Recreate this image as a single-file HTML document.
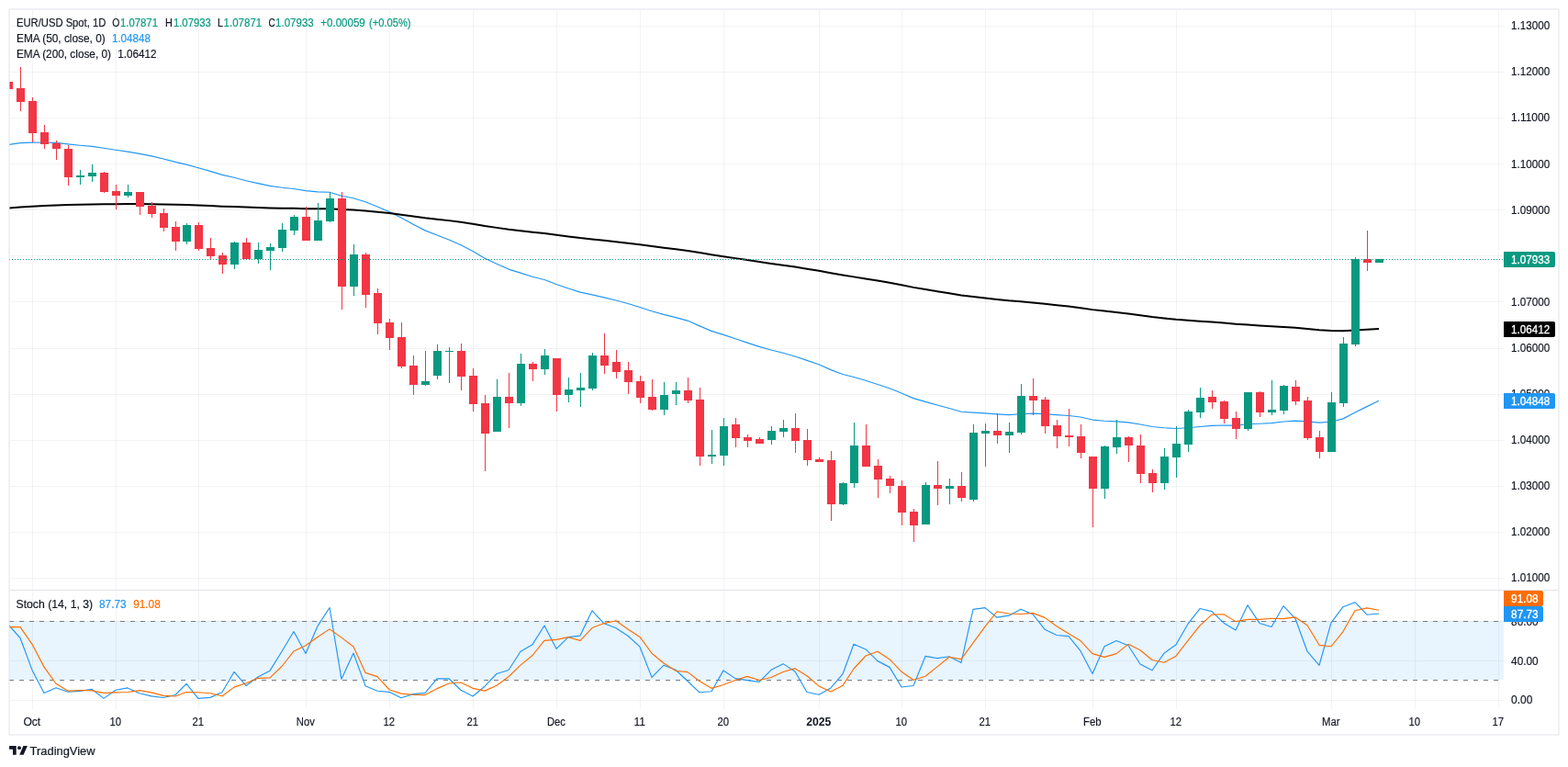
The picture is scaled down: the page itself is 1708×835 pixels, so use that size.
<!DOCTYPE html>
<html lang="en"><head><meta charset="utf-8"><title>EUR/USD Spot, 1D - TradingView</title>
<style>
html,body{margin:0;padding:0;background:#ffffff;}
body{width:1708px;height:835px;overflow:hidden;}
svg{display:block;font-family:"Liberation Sans", sans-serif;}
text{white-space:pre;}
</style></head>
<body>
<svg width="1708" height="835" viewBox="0 0 1708 835">
<rect x="10" y="10" width="1688" height="790" fill="#ffffff"/>
<g shape-rendering="crispEdges">
<rect x="10" y="676" width="1628" height="64" fill="#e8f4fe"/>
<rect x="35" y="11" width="1" height="761" fill="rgba(42,46,57,0.06)"/>
<rect x="126" y="11" width="1" height="761" fill="rgba(42,46,57,0.06)"/>
<rect x="216" y="11" width="1" height="761" fill="rgba(42,46,57,0.06)"/>
<rect x="333" y="11" width="1" height="761" fill="rgba(42,46,57,0.06)"/>
<rect x="424" y="11" width="1" height="761" fill="rgba(42,46,57,0.06)"/>
<rect x="515" y="11" width="1" height="761" fill="rgba(42,46,57,0.06)"/>
<rect x="606" y="11" width="1" height="761" fill="rgba(42,46,57,0.06)"/>
<rect x="697" y="11" width="1" height="761" fill="rgba(42,46,57,0.06)"/>
<rect x="788" y="11" width="1" height="761" fill="rgba(42,46,57,0.06)"/>
<rect x="892" y="11" width="1" height="761" fill="rgba(42,46,57,0.06)"/>
<rect x="982" y="11" width="1" height="761" fill="rgba(42,46,57,0.06)"/>
<rect x="1073" y="11" width="1" height="761" fill="rgba(42,46,57,0.06)"/>
<rect x="1190" y="11" width="1" height="761" fill="rgba(42,46,57,0.06)"/>
<rect x="1281" y="11" width="1" height="761" fill="rgba(42,46,57,0.06)"/>
<rect x="1450" y="11" width="1" height="761" fill="rgba(42,46,57,0.06)"/>
<rect x="1541" y="11" width="1" height="761" fill="rgba(42,46,57,0.06)"/>
<rect x="1632" y="11" width="1" height="761" fill="rgba(42,46,57,0.06)"/>
<rect x="11" y="28" width="1627" height="1" fill="rgba(42,46,57,0.06)"/>
<rect x="11" y="78" width="1627" height="1" fill="rgba(42,46,57,0.06)"/>
<rect x="11" y="128" width="1627" height="1" fill="rgba(42,46,57,0.06)"/>
<rect x="11" y="178" width="1627" height="1" fill="rgba(42,46,57,0.06)"/>
<rect x="11" y="228" width="1627" height="1" fill="rgba(42,46,57,0.06)"/>
<rect x="11" y="278" width="1627" height="1" fill="rgba(42,46,57,0.06)"/>
<rect x="11" y="328" width="1627" height="1" fill="rgba(42,46,57,0.06)"/>
<rect x="11" y="379" width="1627" height="1" fill="rgba(42,46,57,0.06)"/>
<rect x="11" y="429" width="1627" height="1" fill="rgba(42,46,57,0.06)"/>
<rect x="11" y="479" width="1627" height="1" fill="rgba(42,46,57,0.06)"/>
<rect x="11" y="529" width="1627" height="1" fill="rgba(42,46,57,0.06)"/>
<rect x="11" y="579" width="1627" height="1" fill="rgba(42,46,57,0.06)"/>
<rect x="11" y="629" width="1627" height="1" fill="rgba(42,46,57,0.06)"/>
<rect x="11" y="676" width="1627" height="1" fill="rgba(42,46,57,0.06)"/>
<rect x="11" y="719" width="1627" height="1" fill="rgba(42,46,57,0.06)"/>
<rect x="11" y="762" width="1627" height="1" fill="rgba(42,46,57,0.06)"/>
<rect x="11" y="642" width="1686" height="1" fill="#e0e3eb"/>
</g>
<line x1="10" y1="676.5" x2="1638" y2="676.5" stroke="#787b86" stroke-width="1" stroke-dasharray="5 6" shape-rendering="crispEdges"/>
<line x1="10" y1="740.5" x2="1638" y2="740.5" stroke="#787b86" stroke-width="1" stroke-dasharray="5 6" shape-rendering="crispEdges"/>
<clipPath id="cp"><rect x="10" y="11" width="1628" height="631"/></clipPath>
<clipPath id="cs"><rect x="10" y="643" width="1628" height="129"/></clipPath>
<g clip-path="url(#cp)" fill="none" stroke-linejoin="round">
<path d="M9.0,157.50 L22.0,155.64 L35.0,155.18 L48.0,155.21 L61.0,155.44 L74.0,156.87 L87.0,158.21 L100.0,159.38 L113.0,161.29 L126.0,163.28 L139.0,165.07 L152.0,167.38 L165.0,169.91 L178.0,172.94 L191.0,176.43 L203.0,179.12 L216.0,182.68 L229.0,186.42 L242.0,190.36 L255.0,193.25 L268.0,196.69 L281.0,199.65 L294.0,202.37 L307.0,204.23 L320.0,205.48 L333.0,207.66 L346.0,208.93 L359.0,209.20 L372.0,213.20 L385.0,215.70 L398.0,219.79 L411.0,224.93 L424.0,230.50 L437.0,237.07 L450.0,244.17 L463.0,250.87 L476.0,256.01 L489.0,260.95 L502.0,266.76 L515.0,273.51 L528.0,281.26 L541.0,287.17 L554.0,293.08 L567.0,297.12 L580.0,301.19 L593.0,304.56 L606.0,309.44 L619.0,313.93 L632.0,318.17 L645.0,320.87 L658.0,323.85 L671.0,327.00 L684.0,330.45 L697.0,334.43 L710.0,338.77 L723.0,342.34 L736.0,345.58 L749.0,349.09 L762.0,354.85 L775.0,360.35 L788.0,364.41 L801.0,368.79 L814.0,373.11 L827.0,377.38 L840.0,380.97 L853.0,384.31 L866.0,388.02 L879.0,392.41 L892.0,396.71 L905.0,402.64 L918.0,407.48 L930.0,410.52 L943.0,414.30 L956.0,418.49 L969.0,422.78 L982.0,428.05 L995.0,433.65 L1008.0,437.35 L1021.0,441.03 L1034.0,444.48 L1047.0,448.26 L1060.0,449.15 L1073.0,449.93 L1086.0,450.84 L1099.0,451.59 L1112.0,450.78 L1125.0,450.16 L1138.0,450.66 L1151.0,451.58 L1164.0,452.50 L1177.0,454.05 L1190.0,457.06 L1203.0,458.20 L1216.0,458.90 L1229.0,459.88 L1242.0,462.04 L1255.0,464.51 L1268.0,465.79 L1281.0,466.46 L1294.0,465.74 L1307.0,464.45 L1320.0,463.38 L1333.0,463.05 L1346.0,463.16 L1359.0,461.75 L1372.0,461.21 L1385.0,460.61 L1398.0,459.02 L1411.0,458.12 L1424.0,458.82 L1437.0,460.08 L1450.0,459.21 L1463.0,455.87 L1476.0,449.05 L1489.0,442.62 L1502.0,436.32" stroke="#2196f3" stroke-width="1.15"/>
<path d="M9.0,226.70 L22.0,225.54 L35.0,224.73 L48.0,224.04 L61.0,223.42 L74.0,223.10 L87.0,222.78 L100.0,222.44 L113.0,222.29 L126.0,222.19 L139.0,222.06 L152.0,222.08 L165.0,222.18 L178.0,222.43 L191.0,222.82 L203.0,223.04 L216.0,223.51 L229.0,224.05 L242.0,224.68 L255.0,225.07 L268.0,225.62 L281.0,226.09 L294.0,226.51 L307.0,226.75 L320.0,226.84 L333.0,227.18 L346.0,227.31 L359.0,227.19 L372.0,228.03 L385.0,228.51 L398.0,229.42 L411.0,230.63 L424.0,231.99 L437.0,233.64 L450.0,235.48 L463.0,237.26 L476.0,238.70 L489.0,240.13 L502.0,241.81 L515.0,243.77 L528.0,246.03 L541.0,247.88 L554.0,249.78 L567.0,251.23 L580.0,252.72 L593.0,254.06 L606.0,255.80 L619.0,257.47 L632.0,259.11 L645.0,260.38 L658.0,261.74 L671.0,263.16 L684.0,264.67 L697.0,266.33 L710.0,268.11 L723.0,269.72 L736.0,271.27 L749.0,272.89 L762.0,275.11 L775.0,277.30 L788.0,279.16 L801.0,281.12 L814.0,283.09 L827.0,285.07 L840.0,286.90 L853.0,288.68 L866.0,290.57 L879.0,292.66 L892.0,294.74 L905.0,297.26 L918.0,299.54 L930.0,301.38 L943.0,303.43 L956.0,305.59 L969.0,307.80 L982.0,310.28 L995.0,312.88 L1008.0,315.02 L1021.0,317.17 L1034.0,319.28 L1047.0,321.48 L1060.0,322.97 L1073.0,324.42 L1086.0,325.90 L1099.0,327.34 L1112.0,328.37 L1125.0,329.43 L1138.0,330.76 L1151.0,332.18 L1164.0,333.60 L1177.0,335.18 L1190.0,337.13 L1203.0,338.61 L1216.0,339.98 L1229.0,341.41 L1242.0,343.14 L1255.0,344.95 L1268.0,346.46 L1281.0,347.82 L1294.0,348.81 L1307.0,349.65 L1320.0,350.52 L1333.0,351.56 L1346.0,352.70 L1359.0,353.44 L1372.0,354.38 L1385.0,355.29 L1398.0,355.94 L1411.0,356.73 L1424.0,357.92 L1437.0,359.24 L1450.0,360.03 L1463.0,360.17 L1476.0,359.39 L1489.0,358.65 L1502.0,357.89" stroke="#000000" stroke-width="2"/>
</g>
<g clip-path="url(#cp)" shape-rendering="crispEdges">
<rect x="9" y="89" width="1" height="8" fill="#f23645"/>
<rect x="5" y="89" width="9" height="8" fill="#f23645"/>
<rect x="22" y="73" width="1" height="48" fill="#f23645"/>
<rect x="18" y="96" width="9" height="15" fill="#f23645"/>
<rect x="35" y="106" width="1" height="49" fill="#f23645"/>
<rect x="31" y="110" width="9" height="35" fill="#f23645"/>
<rect x="48" y="136" width="1" height="26" fill="#f23645"/>
<rect x="44" y="144" width="9" height="13" fill="#f23645"/>
<rect x="61" y="153" width="1" height="21" fill="#f23645"/>
<rect x="57" y="156" width="9" height="6" fill="#f23645"/>
<rect x="74" y="158" width="1" height="44" fill="#f23645"/>
<rect x="70" y="162" width="9" height="31" fill="#f23645"/>
<rect x="87" y="185" width="1" height="16" fill="#089981"/>
<rect x="83" y="191" width="9" height="2" fill="#089981"/>
<rect x="100" y="179" width="1" height="19" fill="#089981"/>
<rect x="96" y="188" width="9" height="4" fill="#089981"/>
<rect x="113" y="187" width="1" height="23" fill="#f23645"/>
<rect x="109" y="188" width="9" height="21" fill="#f23645"/>
<rect x="126" y="201" width="1" height="27" fill="#f23645"/>
<rect x="122" y="208" width="9" height="5" fill="#f23645"/>
<rect x="139" y="201" width="1" height="14" fill="#089981"/>
<rect x="135" y="209" width="9" height="4" fill="#089981"/>
<rect x="152" y="209" width="1" height="25" fill="#f23645"/>
<rect x="148" y="209" width="9" height="16" fill="#f23645"/>
<rect x="165" y="220" width="1" height="17" fill="#f23645"/>
<rect x="161" y="224" width="9" height="9" fill="#f23645"/>
<rect x="178" y="227" width="1" height="25" fill="#f23645"/>
<rect x="174" y="232" width="9" height="16" fill="#f23645"/>
<rect x="191" y="241" width="1" height="32" fill="#f23645"/>
<rect x="187" y="247" width="9" height="16" fill="#f23645"/>
<rect x="203" y="243" width="1" height="23" fill="#089981"/>
<rect x="199" y="245" width="9" height="18" fill="#089981"/>
<rect x="216" y="242" width="1" height="31" fill="#f23645"/>
<rect x="212" y="245" width="9" height="26" fill="#f23645"/>
<rect x="229" y="259" width="1" height="23" fill="#f23645"/>
<rect x="225" y="270" width="9" height="9" fill="#f23645"/>
<rect x="242" y="275" width="1" height="23" fill="#f23645"/>
<rect x="238" y="278" width="9" height="10" fill="#f23645"/>
<rect x="255" y="263" width="1" height="30" fill="#089981"/>
<rect x="251" y="264" width="9" height="24" fill="#089981"/>
<rect x="268" y="259" width="1" height="23" fill="#f23645"/>
<rect x="264" y="264" width="9" height="18" fill="#f23645"/>
<rect x="281" y="264" width="1" height="23" fill="#089981"/>
<rect x="277" y="272" width="9" height="10" fill="#089981"/>
<rect x="294" y="265" width="1" height="29" fill="#089981"/>
<rect x="290" y="269" width="9" height="4" fill="#089981"/>
<rect x="307" y="243" width="1" height="31" fill="#089981"/>
<rect x="303" y="250" width="9" height="20" fill="#089981"/>
<rect x="320" y="234" width="1" height="22" fill="#089981"/>
<rect x="316" y="236" width="9" height="15" fill="#089981"/>
<rect x="333" y="225" width="1" height="37" fill="#f23645"/>
<rect x="329" y="236" width="9" height="26" fill="#f23645"/>
<rect x="346" y="221" width="1" height="41" fill="#089981"/>
<rect x="342" y="240" width="9" height="22" fill="#089981"/>
<rect x="359" y="209" width="1" height="33" fill="#089981"/>
<rect x="355" y="216" width="9" height="25" fill="#089981"/>
<rect x="372" y="209" width="1" height="128" fill="#f23645"/>
<rect x="368" y="216" width="9" height="96" fill="#f23645"/>
<rect x="385" y="266" width="1" height="56" fill="#089981"/>
<rect x="381" y="277" width="9" height="35" fill="#089981"/>
<rect x="398" y="275" width="1" height="60" fill="#f23645"/>
<rect x="394" y="277" width="9" height="44" fill="#f23645"/>
<rect x="411" y="314" width="1" height="50" fill="#f23645"/>
<rect x="407" y="319" width="9" height="33" fill="#f23645"/>
<rect x="424" y="347" width="1" height="34" fill="#f23645"/>
<rect x="420" y="351" width="9" height="17" fill="#f23645"/>
<rect x="437" y="351" width="1" height="50" fill="#f23645"/>
<rect x="433" y="367" width="9" height="32" fill="#f23645"/>
<rect x="450" y="387" width="1" height="43" fill="#f23645"/>
<rect x="446" y="398" width="9" height="21" fill="#f23645"/>
<rect x="463" y="382" width="1" height="38" fill="#089981"/>
<rect x="459" y="415" width="9" height="4" fill="#089981"/>
<rect x="476" y="375" width="1" height="38" fill="#089981"/>
<rect x="472" y="382" width="9" height="27" fill="#089981"/>
<rect x="489" y="378" width="1" height="39" fill="#089981"/>
<rect x="485" y="382" width="9" height="1" fill="#089981"/>
<rect x="502" y="374" width="1" height="51" fill="#f23645"/>
<rect x="498" y="382" width="9" height="28" fill="#f23645"/>
<rect x="515" y="401" width="1" height="47" fill="#f23645"/>
<rect x="511" y="409" width="9" height="31" fill="#f23645"/>
<rect x="528" y="430" width="1" height="83" fill="#f23645"/>
<rect x="524" y="439" width="9" height="33" fill="#f23645"/>
<rect x="541" y="413" width="1" height="57" fill="#089981"/>
<rect x="537" y="432" width="9" height="38" fill="#089981"/>
<rect x="554" y="406" width="1" height="60" fill="#f23645"/>
<rect x="550" y="432" width="9" height="7" fill="#f23645"/>
<rect x="567" y="385" width="1" height="57" fill="#089981"/>
<rect x="563" y="396" width="9" height="43" fill="#089981"/>
<rect x="580" y="394" width="1" height="21" fill="#f23645"/>
<rect x="576" y="396" width="9" height="6" fill="#f23645"/>
<rect x="593" y="380" width="1" height="28" fill="#089981"/>
<rect x="589" y="387" width="9" height="15" fill="#089981"/>
<rect x="606" y="390" width="1" height="58" fill="#f23645"/>
<rect x="602" y="390" width="9" height="40" fill="#f23645"/>
<rect x="619" y="411" width="1" height="27" fill="#089981"/>
<rect x="615" y="424" width="9" height="6" fill="#089981"/>
<rect x="632" y="406" width="1" height="37" fill="#089981"/>
<rect x="628" y="422" width="9" height="3" fill="#089981"/>
<rect x="645" y="384" width="1" height="41" fill="#089981"/>
<rect x="641" y="387" width="9" height="36" fill="#089981"/>
<rect x="658" y="363" width="1" height="44" fill="#f23645"/>
<rect x="654" y="387" width="9" height="11" fill="#f23645"/>
<rect x="671" y="381" width="1" height="31" fill="#f23645"/>
<rect x="667" y="394" width="9" height="11" fill="#f23645"/>
<rect x="684" y="394" width="1" height="35" fill="#f23645"/>
<rect x="680" y="403" width="9" height="13" fill="#f23645"/>
<rect x="697" y="409" width="1" height="30" fill="#f23645"/>
<rect x="693" y="415" width="9" height="18" fill="#f23645"/>
<rect x="710" y="413" width="1" height="34" fill="#f23645"/>
<rect x="706" y="432" width="9" height="14" fill="#f23645"/>
<rect x="723" y="416" width="1" height="36" fill="#089981"/>
<rect x="719" y="430" width="9" height="16" fill="#089981"/>
<rect x="736" y="416" width="1" height="25" fill="#089981"/>
<rect x="732" y="425" width="9" height="4" fill="#089981"/>
<rect x="749" y="411" width="1" height="28" fill="#f23645"/>
<rect x="745" y="425" width="9" height="11" fill="#f23645"/>
<rect x="762" y="422" width="1" height="85" fill="#f23645"/>
<rect x="758" y="435" width="9" height="62" fill="#f23645"/>
<rect x="775" y="468" width="1" height="37" fill="#089981"/>
<rect x="771" y="495" width="9" height="2" fill="#089981"/>
<rect x="788" y="455" width="1" height="52" fill="#089981"/>
<rect x="784" y="464" width="9" height="32" fill="#089981"/>
<rect x="801" y="455" width="1" height="32" fill="#f23645"/>
<rect x="797" y="462" width="9" height="15" fill="#f23645"/>
<rect x="814" y="473" width="1" height="14" fill="#f23645"/>
<rect x="810" y="476" width="9" height="4" fill="#f23645"/>
<rect x="827" y="476" width="1" height="7" fill="#f23645"/>
<rect x="823" y="478" width="9" height="5" fill="#f23645"/>
<rect x="840" y="464" width="1" height="20" fill="#089981"/>
<rect x="836" y="469" width="9" height="10" fill="#089981"/>
<rect x="853" y="457" width="1" height="19" fill="#089981"/>
<rect x="849" y="466" width="9" height="4" fill="#089981"/>
<rect x="866" y="450" width="1" height="43" fill="#f23645"/>
<rect x="862" y="466" width="9" height="14" fill="#f23645"/>
<rect x="879" y="467" width="1" height="40" fill="#f23645"/>
<rect x="875" y="479" width="9" height="22" fill="#f23645"/>
<rect x="892" y="498" width="1" height="5" fill="#f23645"/>
<rect x="888" y="500" width="9" height="3" fill="#f23645"/>
<rect x="905" y="491" width="1" height="76" fill="#f23645"/>
<rect x="901" y="501" width="9" height="48" fill="#f23645"/>
<rect x="918" y="525" width="1" height="25" fill="#089981"/>
<rect x="914" y="526" width="9" height="23" fill="#089981"/>
<rect x="930" y="460" width="1" height="71" fill="#089981"/>
<rect x="926" y="485" width="9" height="41" fill="#089981"/>
<rect x="943" y="462" width="1" height="46" fill="#f23645"/>
<rect x="939" y="485" width="9" height="23" fill="#f23645"/>
<rect x="956" y="500" width="1" height="42" fill="#f23645"/>
<rect x="952" y="507" width="9" height="15" fill="#f23645"/>
<rect x="969" y="518" width="1" height="19" fill="#f23645"/>
<rect x="965" y="521" width="9" height="8" fill="#f23645"/>
<rect x="982" y="523" width="1" height="49" fill="#f23645"/>
<rect x="978" y="529" width="9" height="29" fill="#f23645"/>
<rect x="995" y="554" width="1" height="36" fill="#f23645"/>
<rect x="991" y="557" width="9" height="15" fill="#f23645"/>
<rect x="1008" y="525" width="1" height="46" fill="#089981"/>
<rect x="1004" y="528" width="9" height="43" fill="#089981"/>
<rect x="1021" y="502" width="1" height="48" fill="#f23645"/>
<rect x="1017" y="528" width="9" height="4" fill="#f23645"/>
<rect x="1034" y="521" width="1" height="28" fill="#089981"/>
<rect x="1030" y="529" width="9" height="3" fill="#089981"/>
<rect x="1047" y="514" width="1" height="32" fill="#f23645"/>
<rect x="1043" y="529" width="9" height="13" fill="#f23645"/>
<rect x="1060" y="462" width="1" height="84" fill="#089981"/>
<rect x="1056" y="471" width="9" height="73" fill="#089981"/>
<rect x="1073" y="461" width="1" height="47" fill="#089981"/>
<rect x="1069" y="469" width="9" height="3" fill="#089981"/>
<rect x="1086" y="450" width="1" height="33" fill="#f23645"/>
<rect x="1082" y="469" width="9" height="5" fill="#f23645"/>
<rect x="1099" y="460" width="1" height="33" fill="#089981"/>
<rect x="1095" y="470" width="9" height="4" fill="#089981"/>
<rect x="1112" y="418" width="1" height="55" fill="#089981"/>
<rect x="1108" y="431" width="9" height="40" fill="#089981"/>
<rect x="1125" y="412" width="1" height="40" fill="#f23645"/>
<rect x="1121" y="431" width="9" height="5" fill="#f23645"/>
<rect x="1138" y="432" width="1" height="40" fill="#f23645"/>
<rect x="1134" y="435" width="9" height="29" fill="#f23645"/>
<rect x="1151" y="457" width="1" height="31" fill="#f23645"/>
<rect x="1147" y="463" width="9" height="12" fill="#f23645"/>
<rect x="1164" y="445" width="1" height="41" fill="#f23645"/>
<rect x="1160" y="474" width="9" height="2" fill="#f23645"/>
<rect x="1177" y="462" width="1" height="37" fill="#f23645"/>
<rect x="1173" y="475" width="9" height="18" fill="#f23645"/>
<rect x="1190" y="497" width="1" height="77" fill="#f23645"/>
<rect x="1186" y="497" width="9" height="35" fill="#f23645"/>
<rect x="1203" y="485" width="1" height="58" fill="#089981"/>
<rect x="1199" y="486" width="9" height="46" fill="#089981"/>
<rect x="1216" y="457" width="1" height="37" fill="#089981"/>
<rect x="1212" y="476" width="9" height="11" fill="#089981"/>
<rect x="1229" y="475" width="1" height="28" fill="#f23645"/>
<rect x="1225" y="476" width="9" height="9" fill="#f23645"/>
<rect x="1242" y="473" width="1" height="53" fill="#f23645"/>
<rect x="1238" y="485" width="9" height="31" fill="#f23645"/>
<rect x="1255" y="511" width="1" height="25" fill="#f23645"/>
<rect x="1251" y="515" width="9" height="11" fill="#f23645"/>
<rect x="1268" y="488" width="1" height="45" fill="#089981"/>
<rect x="1264" y="497" width="9" height="29" fill="#089981"/>
<rect x="1281" y="464" width="1" height="56" fill="#089981"/>
<rect x="1277" y="483" width="9" height="15" fill="#089981"/>
<rect x="1294" y="446" width="1" height="46" fill="#089981"/>
<rect x="1290" y="448" width="9" height="36" fill="#089981"/>
<rect x="1307" y="422" width="1" height="33" fill="#089981"/>
<rect x="1303" y="433" width="9" height="16" fill="#089981"/>
<rect x="1320" y="425" width="1" height="20" fill="#f23645"/>
<rect x="1316" y="432" width="9" height="6" fill="#f23645"/>
<rect x="1333" y="436" width="1" height="25" fill="#f23645"/>
<rect x="1329" y="437" width="9" height="19" fill="#f23645"/>
<rect x="1346" y="448" width="1" height="30" fill="#f23645"/>
<rect x="1342" y="455" width="9" height="12" fill="#f23645"/>
<rect x="1359" y="427" width="1" height="42" fill="#089981"/>
<rect x="1355" y="427" width="9" height="40" fill="#089981"/>
<rect x="1372" y="426" width="1" height="28" fill="#f23645"/>
<rect x="1368" y="427" width="9" height="22" fill="#f23645"/>
<rect x="1385" y="414" width="1" height="38" fill="#089981"/>
<rect x="1381" y="446" width="9" height="3" fill="#089981"/>
<rect x="1398" y="419" width="1" height="32" fill="#089981"/>
<rect x="1394" y="420" width="9" height="27" fill="#089981"/>
<rect x="1411" y="414" width="1" height="27" fill="#f23645"/>
<rect x="1407" y="421" width="9" height="16" fill="#f23645"/>
<rect x="1424" y="432" width="1" height="47" fill="#f23645"/>
<rect x="1420" y="436" width="9" height="41" fill="#f23645"/>
<rect x="1437" y="469" width="1" height="30" fill="#f23645"/>
<rect x="1433" y="476" width="9" height="16" fill="#f23645"/>
<rect x="1450" y="427" width="1" height="65" fill="#089981"/>
<rect x="1446" y="438" width="9" height="54" fill="#089981"/>
<rect x="1463" y="367" width="1" height="76" fill="#089981"/>
<rect x="1459" y="374" width="9" height="65" fill="#089981"/>
<rect x="1476" y="280" width="1" height="97" fill="#089981"/>
<rect x="1472" y="282" width="9" height="93" fill="#089981"/>
<rect x="1489" y="251" width="1" height="44" fill="#f23645"/>
<rect x="1485" y="282" width="9" height="4" fill="#f23645"/>
<rect x="1502" y="282" width="1" height="4" fill="#089981"/>
<rect x="1498" y="282" width="9" height="4" fill="#089981"/>
</g>
<line x1="10" y1="282.5" x2="1638" y2="282.5" stroke="#089981" stroke-width="1" stroke-dasharray="1 2" shape-rendering="crispEdges"/>
<g clip-path="url(#cs)" fill="none" stroke-linejoin="round">
<path d="M9.0,680.00 L22.0,694.50 L35.0,729.40 L48.0,754.50 L61.0,748.80 L74.0,753.20 L87.0,752.40 L100.0,750.20 L113.0,760.40 L126.0,751.20 L139.0,748.90 L152.0,754.80 L165.0,757.90 L178.0,759.48 L191.0,756.50 L203.0,744.42 L216.0,760.32 L229.0,759.38 L242.0,753.57 L255.0,731.44 L268.0,746.42 L281.0,737.07 L294.0,730.15 L307.0,709.27 L320.0,687.53 L333.0,711.54 L346.0,681.57 L359.0,661.50 L372.0,739.29 L385.0,711.06 L398.0,746.66 L411.0,752.22 L424.0,753.33 L437.0,759.77 L450.0,755.62 L463.0,754.36 L476.0,738.93 L489.0,738.78 L502.0,751.23 L515.0,757.99 L528.0,747.20 L541.0,733.52 L554.0,729.56 L567.0,709.28 L580.0,701.63 L593.0,681.06 L606.0,706.33 L619.0,693.65 L632.0,692.09 L645.0,664.83 L658.0,678.78 L671.0,683.83 L684.0,692.22 L697.0,704.18 L710.0,737.41 L723.0,724.21 L736.0,729.27 L749.0,741.48 L762.0,753.80 L775.0,752.76 L788.0,729.90 L801.0,738.63 L814.0,740.60 L827.0,742.41 L840.0,729.36 L853.0,722.64 L866.0,730.98 L879.0,753.51 L892.0,756.21 L905.0,748.99 L918.0,733.73 L930.0,701.29 L943.0,706.94 L956.0,719.62 L969.0,726.38 L982.0,748.00 L995.0,746.52 L1008.0,714.43 L1021.0,716.61 L1034.0,714.78 L1047.0,721.47 L1060.0,663.43 L1073.0,661.61 L1086.0,672.19 L1099.0,670.17 L1112.0,663.17 L1125.0,668.67 L1138.0,685.23 L1151.0,691.48 L1164.0,692.66 L1177.0,708.69 L1190.0,733.57 L1203.0,703.81 L1216.0,697.43 L1229.0,702.77 L1242.0,723.03 L1255.0,729.71 L1268.0,711.15 L1281.0,701.81 L1294.0,679.18 L1307.0,662.53 L1320.0,665.68 L1333.0,678.19 L1346.0,686.02 L1359.0,658.86 L1372.0,678.43 L1385.0,682.54 L1398.0,659.73 L1411.0,673.52 L1424.0,709.19 L1437.0,724.26 L1450.0,677.80 L1463.0,660.70 L1476.0,655.70 L1489.0,669.20 L1502.0,668.00" stroke="#2196f3" stroke-width="1.15"/>
<path d="M9.0,682.60 L22.0,682.60 L35.0,701.30 L48.0,726.13 L61.0,744.23 L74.0,752.17 L87.0,751.47 L100.0,751.93 L113.0,754.33 L126.0,753.93 L139.0,753.50 L152.0,751.63 L165.0,753.87 L178.0,757.39 L191.0,757.96 L203.0,753.47 L216.0,753.74 L229.0,754.70 L242.0,757.76 L255.0,748.13 L268.0,743.81 L281.0,738.31 L294.0,737.88 L307.0,725.49 L320.0,708.98 L333.0,702.78 L346.0,693.55 L359.0,684.87 L372.0,694.12 L385.0,703.95 L398.0,732.33 L411.0,736.65 L424.0,750.74 L437.0,755.11 L450.0,756.24 L463.0,756.59 L476.0,749.64 L489.0,744.03 L502.0,742.98 L515.0,749.33 L528.0,752.14 L541.0,746.24 L554.0,736.76 L567.0,724.12 L580.0,713.49 L593.0,697.33 L606.0,696.34 L619.0,693.68 L632.0,697.36 L645.0,683.52 L658.0,678.57 L671.0,675.81 L684.0,684.94 L697.0,693.41 L710.0,711.27 L723.0,721.94 L736.0,730.30 L749.0,731.66 L762.0,741.52 L775.0,749.35 L788.0,745.49 L801.0,740.43 L814.0,736.38 L827.0,740.55 L840.0,737.46 L853.0,731.47 L866.0,727.66 L879.0,735.71 L892.0,746.90 L905.0,752.90 L918.0,746.31 L930.0,728.00 L943.0,713.99 L956.0,709.28 L969.0,717.65 L982.0,731.33 L995.0,740.30 L1008.0,736.32 L1021.0,725.86 L1034.0,715.27 L1047.0,717.62 L1060.0,699.89 L1073.0,682.17 L1086.0,665.74 L1099.0,667.99 L1112.0,668.51 L1125.0,667.34 L1138.0,672.36 L1151.0,681.79 L1164.0,689.79 L1177.0,697.61 L1190.0,711.64 L1203.0,715.36 L1216.0,711.60 L1229.0,701.34 L1242.0,707.75 L1255.0,718.51 L1268.0,721.30 L1281.0,714.22 L1294.0,697.38 L1307.0,681.17 L1320.0,669.13 L1333.0,668.80 L1346.0,676.63 L1359.0,674.36 L1372.0,674.44 L1385.0,673.28 L1398.0,673.57 L1411.0,671.93 L1424.0,680.81 L1437.0,702.32 L1450.0,703.75 L1463.0,687.59 L1476.0,664.73 L1489.0,661.87 L1502.0,664.30" stroke="#ff6d00" stroke-width="1.15"/>
</g>
<text x="1646.10" y="32.20" fill="#131722" font-size="12" textLength="42.13" lengthAdjust="spacingAndGlyphs" stroke="#131722" stroke-width="0.18">1.13000</text>
<text x="1646.10" y="82.30" fill="#131722" font-size="12" textLength="42.13" lengthAdjust="spacingAndGlyphs" stroke="#131722" stroke-width="0.18">1.12000</text>
<text x="1646.10" y="132.40" fill="#131722" font-size="12" textLength="42.13" lengthAdjust="spacingAndGlyphs" stroke="#131722" stroke-width="0.18">1.11000</text>
<text x="1646.10" y="182.50" fill="#131722" font-size="12" textLength="42.13" lengthAdjust="spacingAndGlyphs" stroke="#131722" stroke-width="0.18">1.10000</text>
<text x="1646.10" y="232.60" fill="#131722" font-size="12" textLength="42.13" lengthAdjust="spacingAndGlyphs" stroke="#131722" stroke-width="0.18">1.09000</text>
<text x="1646.10" y="282.70" fill="#131722" font-size="12" textLength="42.13" lengthAdjust="spacingAndGlyphs" stroke="#131722" stroke-width="0.18">1.08000</text>
<text x="1646.10" y="332.80" fill="#131722" font-size="12" textLength="42.13" lengthAdjust="spacingAndGlyphs" stroke="#131722" stroke-width="0.18">1.07000</text>
<text x="1646.10" y="382.90" fill="#131722" font-size="12" textLength="42.13" lengthAdjust="spacingAndGlyphs" stroke="#131722" stroke-width="0.18">1.06000</text>
<text x="1646.10" y="433.00" fill="#131722" font-size="12" textLength="42.13" lengthAdjust="spacingAndGlyphs" stroke="#131722" stroke-width="0.18">1.05000</text>
<text x="1646.10" y="483.10" fill="#131722" font-size="12" textLength="42.13" lengthAdjust="spacingAndGlyphs" stroke="#131722" stroke-width="0.18">1.04000</text>
<text x="1646.10" y="533.20" fill="#131722" font-size="12" textLength="42.13" lengthAdjust="spacingAndGlyphs" stroke="#131722" stroke-width="0.18">1.03000</text>
<text x="1646.10" y="583.30" fill="#131722" font-size="12" textLength="42.13" lengthAdjust="spacingAndGlyphs" stroke="#131722" stroke-width="0.18">1.02000</text>
<text x="1646.10" y="633.40" fill="#131722" font-size="12" textLength="42.13" lengthAdjust="spacingAndGlyphs" stroke="#131722" stroke-width="0.18">1.01000</text>
<text x="1646.10" y="680.80" fill="#131722" font-size="12" textLength="29.56" lengthAdjust="spacingAndGlyphs" stroke="#131722" stroke-width="0.18">80.00</text>
<text x="1646.10" y="723.80" fill="#131722" font-size="12" textLength="29.56" lengthAdjust="spacingAndGlyphs" stroke="#131722" stroke-width="0.18">40.00</text>
<text x="1646.10" y="765.60" fill="#131722" font-size="12" textLength="23.27" lengthAdjust="spacingAndGlyphs" stroke="#131722" stroke-width="0.18">0.00</text>
<path d="M1638,274 H1692 Q1694,274 1694,276 V289 Q1694,291 1692,291 H1638 Z" fill="#089981"/>
<text x="1646.10" y="286.80" fill="#ffffff" font-size="12" textLength="42.13" lengthAdjust="spacingAndGlyphs" stroke="#ffffff" stroke-width="0.3">1.07933</text>
<path d="M1638,350 H1692 Q1694,350 1694,352 V365 Q1694,367 1692,367 H1638 Z" fill="#000000"/>
<text x="1646.10" y="362.80" fill="#ffffff" font-size="12" textLength="42.13" lengthAdjust="spacingAndGlyphs" stroke="#ffffff" stroke-width="0.3">1.06412</text>
<path d="M1638,428 H1692 Q1694,428 1694,430 V443 Q1694,445 1692,445 H1638 Z" fill="#2196f3"/>
<text x="1646.10" y="440.80" fill="#ffffff" font-size="12" textLength="42.13" lengthAdjust="spacingAndGlyphs" stroke="#ffffff" stroke-width="0.3">1.04848</text>
<path d="M1638,660 H1679 Q1681,660 1681,662 V675 Q1681,677 1679,677 H1638 Z" fill="#2196f3"/>
<text x="1646.10" y="672.80" fill="#ffffff" font-size="12" textLength="29.56" lengthAdjust="spacingAndGlyphs" stroke="#ffffff" stroke-width="0.3">87.73</text>
<path d="M1638,643 H1679 Q1681,643 1681,645 V658 Q1681,660 1679,660 H1638 Z" fill="#ff6d00"/>
<text x="1646.10" y="655.80" fill="#ffffff" font-size="12" textLength="29.56" lengthAdjust="spacingAndGlyphs" stroke="#ffffff" stroke-width="0.3">91.08</text>
<text x="34.80" y="790.40" fill="#131722" font-size="12" text-anchor="middle" textLength="18.78" lengthAdjust="spacingAndGlyphs" stroke="#131722" stroke-width="0.18">Oct</text>
<text x="125.80" y="790.40" fill="#131722" font-size="12" text-anchor="middle" textLength="12.58" lengthAdjust="spacingAndGlyphs" stroke="#131722" stroke-width="0.18">10</text>
<text x="215.80" y="790.40" fill="#131722" font-size="12" text-anchor="middle" textLength="12.58" lengthAdjust="spacingAndGlyphs" stroke="#131722" stroke-width="0.18">21</text>
<text x="332.80" y="790.40" fill="#131722" font-size="12" text-anchor="middle" textLength="19.98" lengthAdjust="spacingAndGlyphs" stroke="#131722" stroke-width="0.18">Nov</text>
<text x="423.80" y="790.40" fill="#131722" font-size="12" text-anchor="middle" textLength="12.58" lengthAdjust="spacingAndGlyphs" stroke="#131722" stroke-width="0.18">12</text>
<text x="514.80" y="790.40" fill="#131722" font-size="12" text-anchor="middle" textLength="12.58" lengthAdjust="spacingAndGlyphs" stroke="#131722" stroke-width="0.18">21</text>
<text x="605.80" y="790.40" fill="#131722" font-size="12" text-anchor="middle" textLength="19.84" lengthAdjust="spacingAndGlyphs" stroke="#131722" stroke-width="0.18">Dec</text>
<text x="696.80" y="790.40" fill="#131722" font-size="12" text-anchor="middle" textLength="12.58" lengthAdjust="spacingAndGlyphs" stroke="#131722" stroke-width="0.18">11</text>
<text x="787.80" y="790.40" fill="#131722" font-size="12" text-anchor="middle" textLength="12.58" lengthAdjust="spacingAndGlyphs" stroke="#131722" stroke-width="0.18">20</text>
<text x="891.80" y="790.40" fill="#131722" font-size="12" text-anchor="middle" font-weight="bold" textLength="27.16" lengthAdjust="spacingAndGlyphs">2025</text>
<text x="981.80" y="790.40" fill="#131722" font-size="12" text-anchor="middle" textLength="12.58" lengthAdjust="spacingAndGlyphs" stroke="#131722" stroke-width="0.18">10</text>
<text x="1072.80" y="790.40" fill="#131722" font-size="12" text-anchor="middle" textLength="12.58" lengthAdjust="spacingAndGlyphs" stroke="#131722" stroke-width="0.18">21</text>
<text x="1189.80" y="790.40" fill="#131722" font-size="12" text-anchor="middle" textLength="19.52" lengthAdjust="spacingAndGlyphs" stroke="#131722" stroke-width="0.18">Feb</text>
<text x="1280.80" y="790.40" fill="#131722" font-size="12" text-anchor="middle" textLength="12.58" lengthAdjust="spacingAndGlyphs" stroke="#131722" stroke-width="0.18">12</text>
<text x="1449.80" y="790.40" fill="#131722" font-size="12" text-anchor="middle" textLength="19.48" lengthAdjust="spacingAndGlyphs" stroke="#131722" stroke-width="0.18">Mar</text>
<text x="1540.80" y="790.40" fill="#131722" font-size="12" text-anchor="middle" textLength="12.58" lengthAdjust="spacingAndGlyphs" stroke="#131722" stroke-width="0.18">10</text>
<text x="1631.80" y="790.40" fill="#131722" font-size="12" text-anchor="middle" textLength="12.58" lengthAdjust="spacingAndGlyphs" stroke="#131722" stroke-width="0.18">17</text>
<text x="18.00" y="29.00" fill="#131722" font-size="12" textLength="97.31" lengthAdjust="spacingAndGlyphs" stroke="#131722" stroke-width="0.18">EUR/USD Spot, 1D</text>
<text x="122.30" y="29.00" fill="#131722" font-size="12" textLength="8.09" lengthAdjust="spacingAndGlyphs" stroke="#131722" stroke-width="0.18">O</text>
<text x="131.00" y="29.00" fill="#089981" font-size="12" textLength="41.00" lengthAdjust="spacingAndGlyphs" stroke="#089981" stroke-width="0.18">1.07871</text>
<text x="180.00" y="29.00" fill="#131722" font-size="12" textLength="7.85" lengthAdjust="spacingAndGlyphs" stroke="#131722" stroke-width="0.18">H</text>
<text x="188.90" y="29.00" fill="#089981" font-size="12" textLength="41.00" lengthAdjust="spacingAndGlyphs" stroke="#089981" stroke-width="0.18">1.07933</text>
<text x="237.00" y="29.00" fill="#131722" font-size="12" textLength="6.07" lengthAdjust="spacingAndGlyphs" stroke="#131722" stroke-width="0.18">L</text>
<text x="243.60" y="29.00" fill="#089981" font-size="12" textLength="41.60" lengthAdjust="spacingAndGlyphs" stroke="#089981" stroke-width="0.18">1.07871</text>
<text x="292.50" y="29.00" fill="#131722" font-size="12" textLength="7.18" lengthAdjust="spacingAndGlyphs" stroke="#131722" stroke-width="0.18">C</text>
<text x="300.10" y="29.00" fill="#089981" font-size="12" textLength="41.60" lengthAdjust="spacingAndGlyphs" stroke="#089981" stroke-width="0.18">1.07933</text>
<text x="349.30" y="29.00" fill="#089981" font-size="12" textLength="48.42" lengthAdjust="spacingAndGlyphs" stroke="#089981" stroke-width="0.18">+0.00059</text>
<text x="402.00" y="29.00" fill="#089981" font-size="12" textLength="45.56" lengthAdjust="spacingAndGlyphs" stroke="#089981" stroke-width="0.18">(+0.05%)</text>
<text x="18.00" y="46.00" fill="#131722" font-size="12" textLength="96.66" lengthAdjust="spacingAndGlyphs" stroke="#131722" stroke-width="0.18">EMA (50, close, 0)</text>
<text x="121.90" y="46.00" fill="#2196f3" font-size="12" textLength="42.13" lengthAdjust="spacingAndGlyphs" stroke="#2196f3" stroke-width="0.18">1.04848</text>
<text x="18.00" y="63.00" fill="#131722" font-size="12" textLength="102.95" lengthAdjust="spacingAndGlyphs" stroke="#131722" stroke-width="0.18">EMA (200, close, 0)</text>
<text x="128.30" y="63.00" fill="#131722" font-size="12" textLength="42.13" lengthAdjust="spacingAndGlyphs" stroke="#131722" stroke-width="0.18">1.06412</text>
<text x="17.50" y="662.00" fill="#131722" font-size="12" textLength="83.66" lengthAdjust="spacingAndGlyphs" stroke="#131722" stroke-width="0.18">Stoch (14, 1, 3)</text>
<text x="108.00" y="662.00" fill="#2196f3" font-size="12" textLength="29.56" lengthAdjust="spacingAndGlyphs" stroke="#2196f3" stroke-width="0.18">87.73</text>
<text x="145.20" y="662.00" fill="#ff6d00" font-size="12" textLength="29.56" lengthAdjust="spacingAndGlyphs" stroke="#ff6d00" stroke-width="0.18">91.08</text>
<rect x="10" y="10" width="1688" height="790" fill="none" stroke="#e0e3eb" stroke-width="1"/>
<g fill="#131722">
<path d="M10.1,812.1 H17.7 V821.8 H14.0 V815.75 H10.1 Z"/>
<circle cx="21.0" cy="814.15" r="1.95"/>
<path d="M25.35,812.1 H29.85 L25.6,821.8 H21.25 Z"/>
</g>
<text x="32.60" y="821.80" fill="#131722" font-size="12.5" textLength="71.00" lengthAdjust="spacingAndGlyphs" stroke="#131722" stroke-width="0.2">TradingView</text>
</svg>
</body></html>
